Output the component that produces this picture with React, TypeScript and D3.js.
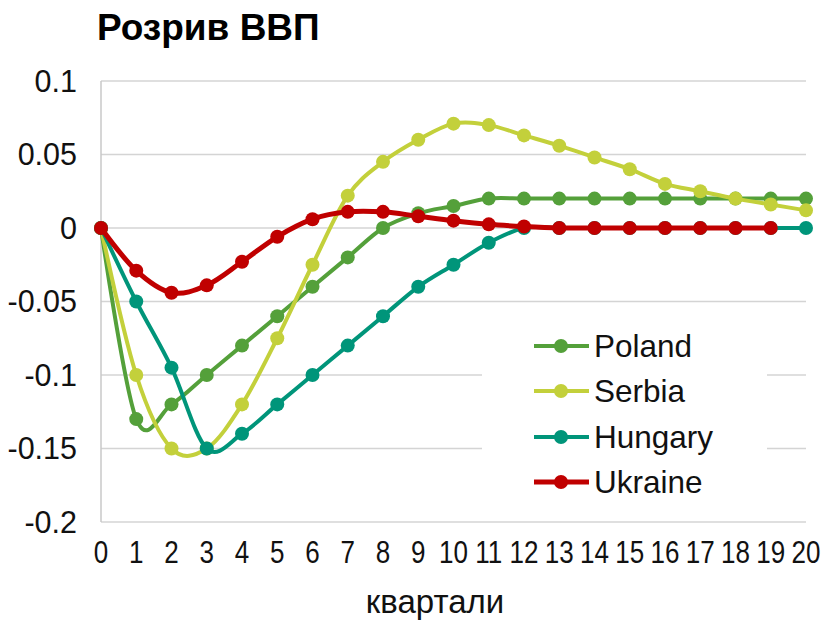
import React from "react";
import * as d3 from "d3";

const quarters = d3.range(0, 21);
const xTickLabels = quarters.map((q) => String(q));
const yTicks = [0.1, 0.05, 0, -0.05, -0.1, -0.15, -0.2];
const yTickLabels = ["0.1", "0.05", "0", "-0.05", "-0.1", "-0.15", "-0.2"];

const poland = [0, -0.13, -0.12, -0.1, -0.08, -0.06, -0.04, -0.02, 0.0, 0.01, 0.015, 0.02, 0.02, 0.02, 0.02, 0.02, 0.02, 0.02, 0.02, 0.02, 0.02];
const serbia = [0, -0.1, -0.15, -0.15, -0.12, -0.075, -0.025, 0.022, 0.045, 0.06, 0.071, 0.07, 0.063, 0.056, 0.048, 0.04, 0.03, 0.025, 0.02, 0.016, 0.012];
const hungary = [0, -0.05, -0.095, -0.15, -0.14, -0.12, -0.1, -0.08, -0.06, -0.04, -0.025, -0.01, 0, 0, 0, 0, 0, 0, 0, 0, 0];
const ukraine = [0, -0.029, -0.044, -0.039, -0.023, -0.006, 0.006, 0.011, 0.011, 0.008, 0.005, 0.0025, 0.001, 0, 0, 0, 0, 0, 0, 0];

const seriesNames = ["Poland", "Serbia", "Hungary", "Ukraine"];
const seriesValues = [poland, serbia, hungary, ukraine];
const seriesColors = ["#54A03A", "#C3D03B", "#00957A", "#C00000"];

const title = "Розрив ВВП";
const xAxisTitle = "квартали";

export default function App() {
  const W = 823;
  const H = 622;
  const x = d3.scaleLinear().domain([0, 20]).range([101, 806]);
  const y = d3.scaleLinear().domain([-0.2, 0.1]).range([522, 81]);
  const line = d3
    .line<number>()
    .x((_, i) => x(i))
    .y((d) => y(d))
    .curve(d3.curveCardinal.tension(0));
  const font = "'Liberation Sans', Arial, sans-serif";
  const legendRows = [346, 391, 437, 482];

  return (
    <svg
      width={W}
      height={H}
      style={{ position: "absolute", left: 0, top: 0, background: "#fff" }}
      fontFamily={font}
    >
      <rect x={0} y={0} width={W} height={H} fill="#fff" />
      <text x={97} y={40} fontSize={37} fontWeight="bold" fill="#000">
        {title}
      </text>
      {yTicks.map((t, i) => (
        <g key={"g" + i}>
          <line x1={x(0)} x2={x(20)} y1={y(t)} y2={y(t)} stroke="#D4D4D4" strokeWidth={1.5} />
          <text x={77} y={y(t)} dy="0.35em" textAnchor="end" fontSize={30.5} fill="#111">
            {yTickLabels[i]}
          </text>
        </g>
      ))}
      <line x1={x(0)} x2={x(0)} y1={y(0.1)} y2={y(-0.2)} stroke="#C8C8C8" strokeWidth={1.5} />
      {quarters.map((q, i) => (
        <text
          key={"x" + i}
          transform={`translate(${x(q)},552) scale(0.84,1)`}
          dy="0.35em"
          textAnchor="middle"
          fontSize={31}
          fill="#111"
        >
          {xTickLabels[i]}
        </text>
      ))}
      <text x={435} y={601} dy="0.35em" textAnchor="middle" fontSize={33} fill="#111">
        {xAxisTitle}
      </text>
      {seriesValues.map((vals, si) => (
        <g key={"s" + si}>
          <path d={line(vals) || ""} fill="none" stroke={seriesColors[si]} strokeWidth={si === 3 ? 5 : 4} />
          {vals.map((v, i) => (
            <circle key={i} cx={x(i)} cy={y(v)} r={7} fill={seriesColors[si]} />
          ))}
        </g>
      ))}
      <rect x={482} y={320} width={285} height={186} fill="#fff" />
      {seriesNames.map((n, i) => (
        <g key={"l" + i}>
          <line x1={534} x2={589} y1={legendRows[i]} y2={legendRows[i]} stroke={seriesColors[i]} strokeWidth={i === 3 ? 5 : 4} />
          <circle cx={561} cy={legendRows[i]} r={7} fill={seriesColors[i]} />
          <text x={594} y={legendRows[i]} dy="0.35em" fontSize={31.5} fill="#111">
            {n}
          </text>
        </g>
      ))}
    </svg>
  );
}
